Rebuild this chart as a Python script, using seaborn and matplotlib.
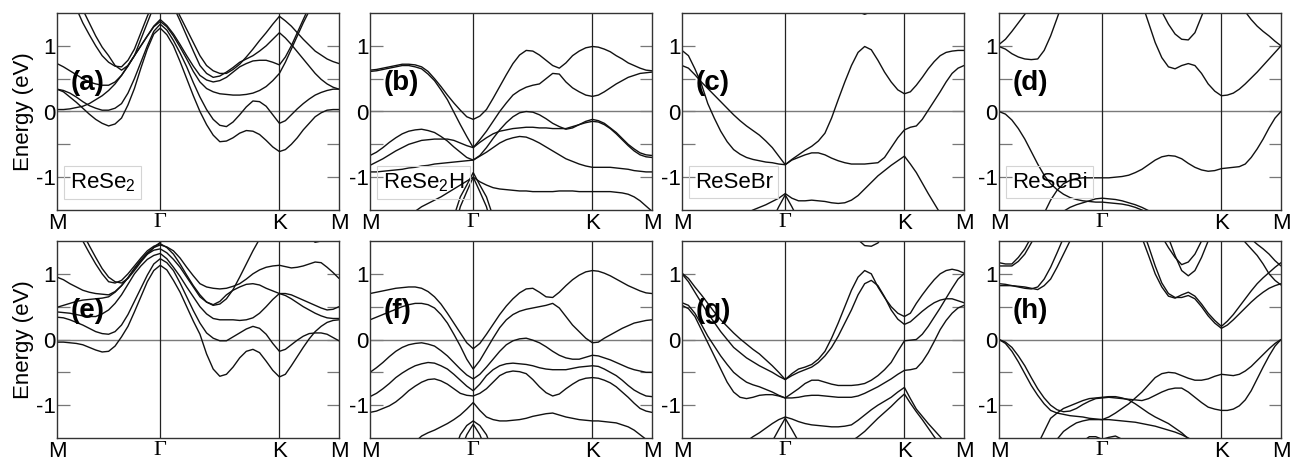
import numpy as np
import pandas as pd
import matplotlib
matplotlib.use("Agg")
import matplotlib.pyplot as plt
import seaborn as sns

# ---------------- k-path M - Gamma - K - M (hexagonal BZ, 2pi/a units) ----------------
SEG_MG = 1 / np.sqrt(3)
SEG_GK = 2 / 3
SEG_KM = 1 / 3
k_path = np.concatenate([
    np.linspace(0, SEG_MG, 17),
    np.linspace(SEG_MG, SEG_MG + SEG_GK, 19)[1:],
    np.linspace(SEG_MG + SEG_GK, SEG_MG + SEG_GK + SEG_KM, 11)[1:],
])
k_ticks = [0, SEG_MG, SEG_MG + SEG_GK, SEG_MG + SEG_GK + SEG_KM]
k_labels = ["M", "Γ", "K", "M"]

# ---------------- band energies (eV): [M..Γ] + [..K] + [..M] ----------------
# (a) ReSe2
a1 = [0.34, 0.30, 0.22, 0.14, 0.05, -0.04, -0.12, -0.18, -0.22, -0.19, -0.10, 0.10, 0.35, 0.66, 0.95, 1.18, 1.27] + \
     [1.17, 1.00, 0.76, 0.50, 0.24, 0.00, -0.20, -0.36, -0.46, -0.45, -0.40, -0.33, -0.29, -0.30, -0.35, -0.44, -0.54, -0.61] + \
     [-0.58, -0.50, -0.40, -0.28, -0.18, -0.08, -0.02, 0.02, 0.03, 0.03]
a2 = [0.34, 0.32, 0.28, 0.22, 0.15, 0.09, 0.05, 0.02, 0.02, 0.05, 0.12, 0.28, 0.50, 0.75, 1.00, 1.22, 1.33] + \
     [1.24, 1.08, 0.89, 0.68, 0.44, 0.22, 0.03, -0.12, -0.21, -0.23, -0.16, -0.05, 0.07, 0.16, 0.15, 0.08, -0.05, -0.18] + \
     [-0.14, -0.05, 0.04, 0.12, 0.19, 0.25, 0.29, 0.32, 0.34, 0.34]
a3 = [0.03, 0.03, 0.04, 0.06, 0.08, 0.12, 0.18, 0.24, 0.32, 0.42, 0.55, 0.70, 0.85, 1.00, 1.15, 1.29, 1.37] + \
     [1.29, 1.15, 0.98, 0.80, 0.61, 0.45, 0.35, 0.30, 0.27, 0.26, 0.25, 0.25, 0.26, 0.28, 0.32, 0.38, 0.47, 0.58] + \
     [0.75, 0.95, 1.15, 1.35, 1.53, 1.70, 1.85, 2.00, 2.10, 2.20]
a4 = [0.73, 0.68, 0.62, 0.56, 0.50, 0.45, 0.42, 0.40, 0.40, 0.45, 0.55, 0.69, 0.85, 1.00, 1.15, 1.30, 1.40] + \
     [1.31, 1.18, 1.02, 0.85, 0.69, 0.55, 0.48, 0.45, 0.47, 0.52, 0.60, 0.68, 0.73, 0.77, 0.78, 0.78, 0.75, 0.71] + \
     [0.83, 1.00, 1.20, 1.40, 1.60, 1.80, 1.95, 2.10, 2.20, 2.30]
a5 = [2.30, 2.05, 1.80, 1.57, 1.35, 1.17, 1.00, 0.85, 0.75, 0.69, 0.68, 0.78, 0.95, 1.20, 1.45, 1.68, 1.90] + \
     [1.76, 1.60, 1.38, 1.15, 0.92, 0.70, 0.58, 0.52, 0.54, 0.60, 0.67, 0.75, 0.80, 0.85, 0.92, 1.00, 1.10, 1.20] + \
     [1.12, 1.02, 0.91, 0.80, 0.69, 0.58, 0.49, 0.42, 0.37, 0.34]
a6 = [2.50, 2.25, 2.00, 1.77, 1.55, 1.35, 1.15, 0.98, 0.85, 0.70, 0.63, 0.70, 0.85, 1.10, 1.35, 1.60, 1.85] + \
     [1.76, 1.65, 1.45, 1.25, 1.05, 0.85, 0.70, 0.62, 0.58, 0.58, 0.64, 0.72, 0.83, 0.95, 1.08, 1.20, 1.33, 1.45] + \
     [1.38, 1.30, 1.20, 1.10, 1.01, 0.92, 0.86, 0.80, 0.76, 0.73]

# (b) ReSe2H
b1 = [0.63, 0.64, 0.66, 0.68, 0.70, 0.72, 0.72, 0.71, 0.68, 0.61, 0.50, 0.38, 0.25, 0.13, 0.02, -0.08, -0.12] + \
     [-0.07, 0.03, 0.20, 0.38, 0.56, 0.73, 0.86, 0.93, 0.92, 0.86, 0.78, 0.70, 0.66, 0.74, 0.85, 0.92, 0.97, 0.99] + \
     [0.98, 0.95, 0.91, 0.85, 0.80, 0.74, 0.70, 0.66, 0.63, 0.62]
b2 = [0.61, 0.62, 0.64, 0.66, 0.68, 0.70, 0.70, 0.68, 0.65, 0.57, 0.47, 0.33, 0.18, -0.01, -0.20, -0.38, -0.55] + \
     [-0.43, -0.30, -0.15, 0.00, 0.13, 0.25, 0.32, 0.37, 0.40, 0.42, 0.50, 0.58, 0.57, 0.45, 0.36, 0.30, 0.25, 0.23] + \
     [0.25, 0.30, 0.36, 0.42, 0.47, 0.52, 0.55, 0.58, 0.59, 0.60]
b3 = [-0.67, -0.62, -0.55, -0.47, -0.40, -0.34, -0.30, -0.28, -0.27, -0.29, -0.32, -0.38, -0.45, -0.54, -0.62, -0.70, -0.74] + \
     [-0.67, -0.55, -0.41, -0.28, -0.17, -0.08, -0.02, 0.00, -0.01, -0.05, -0.11, -0.18, -0.23, -0.27, -0.25, -0.20, -0.15, -0.12] + \
     [-0.14, -0.18, -0.25, -0.32, -0.41, -0.50, -0.57, -0.63, -0.66, -0.67]
b4 = [-0.82, -0.77, -0.72, -0.66, -0.60, -0.55, -0.50, -0.47, -0.44, -0.43, -0.42, -0.42, -0.42, -0.44, -0.48, -0.52, -0.55] + \
     [-0.47, -0.40, -0.34, -0.30, -0.28, -0.26, -0.25, -0.24, -0.24, -0.25, -0.25, -0.26, -0.26, -0.26, -0.23, -0.20, -0.17, -0.15] + \
     [-0.16, -0.20, -0.26, -0.34, -0.43, -0.52, -0.60, -0.66, -0.69, -0.70]
b5 = [-0.92, -0.92, -0.91, -0.90, -0.89, -0.88, -0.86, -0.85, -0.83, -0.82, -0.80, -0.79, -0.78, -0.77, -0.76, -0.75, -0.74] + \
     [-0.68, -0.62, -0.55, -0.48, -0.43, -0.40, -0.38, -0.39, -0.43, -0.48, -0.54, -0.60, -0.66, -0.72, -0.76, -0.80, -0.83, -0.85] + \
     [-0.85, -0.85, -0.85, -0.86, -0.87, -0.88, -0.90, -0.91, -0.92, -0.92]
b6 = [-2.20, -2.10, -2.00, -1.90, -1.80, -1.70, -1.60, -1.52, -1.45, -1.40, -1.35, -1.30, -1.24, -1.18, -1.12, -1.06, -1.00] + \
     [-1.07, -1.12, -1.16, -1.18, -1.19, -1.20, -1.21, -1.21, -1.22, -1.22, -1.22, -1.22, -1.21, -1.21, -1.21, -1.22, -1.22, -1.22] + \
     [-1.22, -1.22, -1.22, -1.23, -1.24, -1.26, -1.30, -1.36, -1.44, -1.52]
b7 = [-2.80, -2.80, -2.80, -2.80, -2.80, -2.80, -2.80, -2.80, -2.80, -2.80, -2.50, -2.20, -1.90, -1.60, -1.30, -1.12, -0.93] + \
     [-1.12, -1.30, -1.60, -1.90, -2.20, -2.50, -2.80, -2.80, -2.80, -2.80, -2.80, -2.80, -2.80, -2.80, -2.80, -2.80, -2.80, -2.80] + \
     [-2.80, -2.80, -2.80, -2.80, -2.80, -2.80, -2.80, -2.80, -2.80, -2.80]
b8 = [-2.90, -2.90, -2.90, -2.90, -2.90, -2.90, -2.90, -2.90, -2.90, -2.90, -2.70, -2.45, -2.20, -1.82, -1.45, -1.22, -1.00] + \
     [-1.22, -1.45, -1.82, -2.20, -2.45, -2.70, -2.90, -2.90, -2.90, -2.90, -2.90, -2.90, -2.90, -2.90, -2.90, -2.90, -2.90, -2.90] + \
     [-2.90, -2.90, -2.90, -2.90, -2.90, -2.90, -2.90, -2.90, -2.90, -2.90]

# (c) ReSeBr
c1 = [0.93, 0.85, 0.65, 0.42, 0.12, -0.10, -0.30, -0.46, -0.58, -0.65, -0.70, -0.73, -0.75, -0.77, -0.78, -0.80, -0.81] + \
     [-0.74, -0.70, -0.66, -0.63, -0.63, -0.66, -0.71, -0.75, -0.78, -0.80, -0.80, -0.80, -0.79, -0.78, -0.70, -0.55, -0.40, -0.28] + \
     [-0.24, -0.22, -0.12, 0.02, 0.16, 0.30, 0.45, 0.58, 0.66, 0.70]
c2 = [0.70, 0.66, 0.56, 0.45, 0.35, 0.25, 0.15, 0.05, -0.05, -0.14, -0.22, -0.29, -0.36, -0.45, -0.55, -0.68, -0.81] + \
     [-0.73, -0.66, -0.59, -0.53, -0.45, -0.33, -0.10, 0.18, 0.45, 0.70, 0.90, 0.99, 0.94, 0.78, 0.60, 0.45, 0.33, 0.27] + \
     [0.30, 0.40, 0.52, 0.65, 0.76, 0.85, 0.90, 0.92, 0.93, 0.93]
c3 = [-2.20, -2.15, -2.10, -2.05, -2.00, -1.95, -1.90, -1.82, -1.75, -1.65, -1.55, -1.50, -1.46, -1.42, -1.37, -1.32, -1.25] + \
     [-1.32, -1.36, -1.36, -1.35, -1.36, -1.37, -1.39, -1.40, -1.39, -1.35, -1.28, -1.18, -1.08, -0.98, -0.90, -0.82, -0.75, -0.68] + \
     [-0.80, -0.93, -1.09, -1.25, -1.40, -1.55, -1.68, -1.80, -1.95, -2.10]
c4 = [-2.60, -2.60, -2.60, -2.60, -2.60, -2.60, -2.60, -2.60, -2.60, -2.60, -2.60, -2.60, -2.20, -1.95, -1.65, -1.45, -1.27] + \
     [-1.45, -1.65, -1.95, -2.20, -2.60, -2.60, -2.60, -2.60, -2.60, -2.60, -2.60, -2.60, -2.60, -2.60, -2.60, -2.60, -2.60, -2.60] + \
     [-2.60, -2.60, -2.60, -2.60, -2.60, -2.60, -2.60, -2.60, -2.60, -2.60]
c5 = [2.60, 2.60, 2.60, 2.60, 2.60, 2.60, 2.60, 2.60, 2.60, 2.60, 2.60, 2.60, 2.60, 2.60, 2.60, 2.60, 2.60] + \
     [2.60, 2.60, 2.60, 2.60, 2.60, 2.20, 2.05, 1.90, 1.75, 1.60, 1.52, 1.48, 1.52, 1.60, 1.75, 1.90, 2.05, 2.20] + \
     [2.40, 2.40, 2.40, 2.40, 2.40, 2.40, 2.40, 2.40, 2.40, 2.40]

# (d) ReSeBi
d1 = [0.00, -0.04, -0.13, -0.26, -0.42, -0.61, -0.80, -0.97, -1.10, -1.19, -1.26, -1.31, -1.34, -1.36, -1.37, -1.38, -1.38] + \
     [-1.39, -1.40, -1.41, -1.43, -1.46, -1.50, -1.55, -1.62, -1.70, -1.80, -1.90, -2.00, -2.05, -2.10, -2.15, -2.20, -2.25, -2.30] + \
     [-2.30, -2.30, -2.25, -2.20, -2.15, -2.10, -2.05, -2.00, -1.95, -1.90]
d2 = [-2.60, -2.45, -2.30, -2.15, -2.00, -1.88, -1.75, -1.55, -1.35, -1.20, -1.10, -1.05, -1.02, -1.01, -1.01, -1.01, -1.01] + \
     [-1.01, -1.00, -0.99, -0.97, -0.93, -0.88, -0.81, -0.74, -0.69, -0.67, -0.68, -0.72, -0.79, -0.85, -0.89, -0.91, -0.90, -0.87] + \
     [-0.86, -0.85, -0.84, -0.80, -0.70, -0.57, -0.42, -0.25, -0.10, 0.00]
d3 = [-2.50, -2.45, -2.40, -2.35, -2.30, -2.20, -2.10, -2.00, -1.90, -1.68, -1.52, -1.46, -1.42, -1.39, -1.36, -1.33, -1.32] + \
     [-1.33, -1.34, -1.36, -1.39, -1.42, -1.46, -1.51, -1.56, -1.63, -1.70, -1.78, -1.85, -1.92, -2.00, -2.05, -2.10, -2.15, -2.20] + \
     [-2.25, -2.30, -2.35, -2.40, -2.45, -2.50, -2.55, -2.60, -2.65, -2.70]
d4 = [1.02, 1.10, 1.22, 1.35, 1.48, 1.64, 1.80, 1.95, 2.10, 2.20, 2.30, 2.35, 2.40, 2.43, 2.45, 2.48, 2.50] + \
     [2.46, 2.40, 2.27, 2.10, 1.90, 1.65, 1.35, 1.05, 0.82, 0.68, 0.65, 0.70, 0.73, 0.70, 0.58, 0.42, 0.31, 0.24] + \
     [0.25, 0.28, 0.34, 0.42, 0.51, 0.60, 0.70, 0.80, 0.90, 1.00]
d5 = [0.99, 0.95, 0.88, 0.83, 0.80, 0.79, 0.80, 0.93, 1.15, 1.42, 1.70, 1.90, 2.10, 2.25, 2.40, 2.50, 2.60] + \
     [2.55, 2.50, 2.40, 2.30, 2.15, 2.00, 1.85, 1.70, 1.52, 1.33, 1.18, 1.10, 1.09, 1.20, 1.45, 1.70, 1.85, 2.00] + \
     [1.90, 1.80, 1.66, 1.52, 1.40, 1.30, 1.22, 1.15, 1.07, 1.00]

# (e)
e1 = [-0.04, -0.04, -0.05, -0.06, -0.08, -0.12, -0.16, -0.19, -0.18, -0.10, 0.04, 0.20, 0.42, 0.65, 0.88, 1.05, 1.13] + \
     [1.06, 0.90, 0.72, 0.50, 0.28, 0.08, -0.22, -0.45, -0.56, -0.53, -0.42, -0.28, -0.18, -0.15, -0.20, -0.33, -0.47, -0.57] + \
     [-0.53, -0.40, -0.26, -0.12, 0.01, 0.12, 0.20, 0.26, 0.29, 0.30]
e2 = [0.34, 0.33, 0.30, 0.26, 0.22, 0.17, 0.12, 0.09, 0.08, 0.12, 0.22, 0.38, 0.58, 0.78, 0.98, 1.15, 1.23] + \
     [1.17, 1.05, 0.86, 0.65, 0.44, 0.25, 0.10, 0.02, -0.02, -0.02, 0.04, 0.10, 0.16, 0.20, 0.17, 0.08, -0.06, -0.18] + \
     [-0.15, -0.08, -0.01, 0.05, 0.09, 0.10, 0.10, 0.08, 0.03, -0.02]
e3 = [0.42, 0.41, 0.40, 0.38, 0.36, 0.35, 0.35, 0.39, 0.45, 0.55, 0.68, 0.84, 1.00, 1.12, 1.22, 1.28, 1.31] + \
     [1.23, 1.10, 0.96, 0.80, 0.65, 0.50, 0.39, 0.32, 0.30, 0.30, 0.30, 0.29, 0.30, 0.33, 0.40, 0.50, 0.61, 0.70] + \
     [0.67, 0.62, 0.56, 0.50, 0.45, 0.40, 0.36, 0.33, 0.32, 0.32]
e4 = [0.49, 0.52, 0.55, 0.58, 0.60, 0.61, 0.62, 0.63, 0.65, 0.72, 0.82, 0.94, 1.08, 1.20, 1.30, 1.36, 1.38] + \
     [1.32, 1.22, 1.10, 0.95, 0.80, 0.65, 0.57, 0.53, 0.58, 0.68, 0.75, 0.80, 0.84, 0.85, 0.83, 0.78, 0.74, 0.70] + \
     [0.70, 0.68, 0.64, 0.60, 0.56, 0.52, 0.48, 0.45, 0.46, 0.50]
e5 = [0.95, 0.91, 0.85, 0.80, 0.75, 0.72, 0.70, 0.69, 0.68, 0.73, 0.82, 0.94, 1.08, 1.21, 1.32, 1.40, 1.44] + \
     [1.41, 1.35, 1.24, 1.10, 0.97, 0.85, 0.80, 0.78, 0.77, 0.78, 0.81, 0.85, 0.92, 1.00, 1.06, 1.10, 1.12, 1.13] + \
     [1.11, 1.09, 1.10, 1.12, 1.15, 1.18, 1.17, 1.10, 1.02, 0.93]
e6 = [2.30, 2.10, 1.90, 1.70, 1.50, 1.32, 1.15, 1.00, 0.88, 0.86, 0.90, 1.00, 1.12, 1.24, 1.35, 1.42, 1.46] + \
     [1.40, 1.30, 1.15, 0.98, 0.82, 0.68, 0.57, 0.52, 0.54, 0.62, 0.76, 0.95, 1.15, 1.35, 1.53, 1.70, 1.80, 1.90] + \
     [1.92, 1.95, 1.97, 2.00, 2.00, 2.00, 2.00, 2.00, 2.00, 2.00]
e7 = [2.40, 2.20, 2.00, 1.80, 1.62, 1.43, 1.25, 1.08, 0.95, 0.88, 0.86, 0.93, 1.05, 1.18, 1.30, 1.40, 1.48] + \
     [1.55, 1.62, 1.70, 1.80, 1.90, 2.00, 2.05, 2.10, 2.15, 2.20, 2.20, 2.20, 2.20, 2.20, 2.20, 2.20, 2.20, 2.20] + \
     [2.05, 1.90, 1.77, 1.65, 1.55, 1.48, 1.50, 1.60, 1.70, 1.80]

# (f)
f1 = [0.70, 0.72, 0.74, 0.76, 0.78, 0.79, 0.80, 0.80, 0.78, 0.73, 0.65, 0.54, 0.40, 0.25, 0.10, -0.05, -0.14] + \
     [-0.06, 0.08, 0.23, 0.38, 0.51, 0.62, 0.71, 0.77, 0.78, 0.72, 0.65, 0.64, 0.72, 0.82, 0.91, 0.98, 1.03, 1.05] + \
     [1.04, 1.01, 0.97, 0.92, 0.87, 0.82, 0.78, 0.74, 0.71, 0.70]
f2 = [0.30, 0.34, 0.38, 0.42, 0.46, 0.50, 0.53, 0.55, 0.55, 0.53, 0.48, 0.38, 0.25, 0.08, -0.10, -0.30, -0.45] + \
     [-0.32, -0.15, 0.02, 0.18, 0.30, 0.38, 0.43, 0.46, 0.48, 0.50, 0.52, 0.55, 0.48, 0.35, 0.22, 0.12, 0.02, -0.05] + \
     [-0.04, 0.02, 0.07, 0.12, 0.17, 0.21, 0.25, 0.27, 0.29, 0.30]
f3 = [-0.50, -0.43, -0.35, -0.26, -0.18, -0.12, -0.08, -0.06, -0.05, -0.07, -0.10, -0.17, -0.25, -0.35, -0.45, -0.54, -0.60] + \
     [-0.53, -0.42, -0.30, -0.18, -0.08, -0.02, 0.01, 0.02, -0.01, -0.05, -0.11, -0.18, -0.24, -0.28, -0.30, -0.30, -0.27, -0.24] + \
     [-0.25, -0.28, -0.31, -0.35, -0.39, -0.43, -0.46, -0.48, -0.50, -0.50]
f4 = [-0.87, -0.82, -0.75, -0.67, -0.58, -0.51, -0.45, -0.40, -0.37, -0.35, -0.36, -0.40, -0.45, -0.53, -0.62, -0.71, -0.78] + \
     [-0.68, -0.55, -0.46, -0.40, -0.37, -0.36, -0.37, -0.38, -0.40, -0.43, -0.45, -0.46, -0.46, -0.46, -0.44, -0.42, -0.41, -0.40] + \
     [-0.41, -0.45, -0.50, -0.55, -0.62, -0.70, -0.77, -0.82, -0.86, -0.87]
f5 = [-1.11, -1.09, -1.05, -1.01, -0.95, -0.87, -0.78, -0.71, -0.65, -0.61, -0.60, -0.63, -0.68, -0.75, -0.82, -0.85, -0.86] + \
     [-0.82, -0.75, -0.65, -0.55, -0.50, -0.48, -0.49, -0.52, -0.61, -0.72, -0.81, -0.86, -0.83, -0.75, -0.68, -0.62, -0.59, -0.58] + \
     [-0.59, -0.62, -0.66, -0.72, -0.80, -0.88, -0.97, -1.05, -1.09, -1.11]
f6 = [-2.20, -2.10, -2.00, -1.92, -1.85, -1.75, -1.65, -1.56, -1.47, -1.42, -1.38, -1.33, -1.28, -1.22, -1.15, -1.06, -0.96] + \
     [-1.08, -1.18, -1.22, -1.24, -1.24, -1.23, -1.22, -1.20, -1.17, -1.15, -1.13, -1.12, -1.15, -1.18, -1.20, -1.22, -1.23, -1.24] + \
     [-1.24, -1.25, -1.26, -1.27, -1.30, -1.33, -1.38, -1.45, -1.52, -1.60]
f7 = [-2.60, -2.60, -2.60, -2.60, -2.60, -2.60, -2.60, -2.60, -2.60, -2.60, -2.60, -2.60, -2.00, -1.72, -1.45, -1.31, -1.24] + \
     [-1.31, -1.45, -1.72, -2.00, -2.60, -2.60, -2.60, -2.60, -2.60, -2.60, -2.60, -2.60, -2.60, -2.60, -2.60, -2.60, -2.60, -2.60] + \
     [-2.60, -2.60, -2.60, -2.60, -2.60, -2.60, -2.60, -2.60, -2.60, -2.60]
f8 = [-2.80, -2.80, -2.80, -2.80, -2.80, -2.80, -2.80, -2.80, -2.80, -2.80, -2.80, -2.80, -2.40, -2.05, -1.70, -1.45, -1.29] + \
     [-1.45, -1.70, -2.05, -2.40, -2.80, -2.80, -2.80, -2.80, -2.80, -2.80, -2.80, -2.80, -2.80, -2.80, -2.80, -2.80, -2.80, -2.80] + \
     [-2.80, -2.80, -2.80, -2.80, -2.80, -2.80, -2.80, -2.80, -2.80, -2.80]

# (g)
g1 = [1.01, 0.93, 0.80, 0.68, 0.55, 0.42, 0.30, 0.20, 0.10, 0.01, -0.07, -0.15, -0.22, -0.31, -0.40, -0.50, -0.61] + \
     [-0.52, -0.45, -0.42, -0.38, -0.30, -0.18, 0.02, 0.25, 0.50, 0.75, 0.95, 1.05, 1.00, 0.80, 0.64, 0.50, 0.40, 0.35] + \
     [0.40, 0.55, 0.68, 0.80, 0.91, 1.00, 1.05, 1.07, 1.05, 1.01]
g2 = [1.00, 0.88, 0.72, 0.56, 0.40, 0.26, 0.12, 0.00, -0.12, -0.20, -0.28, -0.34, -0.40, -0.45, -0.50, -0.56, -0.61] + \
     [-0.55, -0.50, -0.46, -0.42, -0.35, -0.25, -0.12, 0.05, 0.25, 0.45, 0.68, 0.85, 0.90, 0.82, 0.65, 0.45, 0.31, 0.23] + \
     [0.27, 0.35, 0.43, 0.50, 0.56, 0.60, 0.62, 0.62, 0.59, 0.56]
g3 = [0.56, 0.52, 0.40, 0.23, 0.05, -0.10, -0.25, -0.38, -0.50, -0.58, -0.65, -0.69, -0.72, -0.76, -0.80, -0.85, -0.89] + \
     [-0.82, -0.75, -0.67, -0.62, -0.62, -0.65, -0.68, -0.70, -0.70, -0.70, -0.69, -0.67, -0.62, -0.55, -0.46, -0.35, -0.18, -0.02] + \
     [-0.01, 0.00, 0.08, 0.20, 0.34, 0.48, 0.63, 0.78, 0.92, 1.00]
g4 = [0.52, 0.47, 0.35, 0.15, -0.05, -0.25, -0.45, -0.65, -0.80, -0.88, -0.90, -0.88, -0.85, -0.84, -0.84, -0.86, -0.89] + \
     [-0.89, -0.88, -0.86, -0.85, -0.85, -0.86, -0.87, -0.88, -0.88, -0.88, -0.86, -0.82, -0.77, -0.72, -0.66, -0.60, -0.53, -0.47] + \
     [-0.46, -0.44, -0.34, -0.20, -0.03, 0.15, 0.29, 0.40, 0.48, 0.52]
g5 = [-2.30, -2.20, -2.10, -2.02, -1.95, -1.88, -1.80, -1.72, -1.65, -1.60, -1.55, -1.48, -1.42, -1.35, -1.28, -1.22, -1.18] + \
     [-1.21, -1.25, -1.28, -1.30, -1.31, -1.32, -1.33, -1.33, -1.32, -1.30, -1.23, -1.15, -1.07, -1.00, -0.94, -0.88, -0.80, -0.73] + \
     [-0.90, -1.06, -1.17, -1.28, -1.38, -1.48, -1.59, -1.70, -1.80, -1.90]
g6 = [-2.60, -2.60, -2.60, -2.60, -2.60, -2.60, -2.60, -2.60, -2.60, -2.60, -2.60, -2.60, -2.60, -2.60, -2.60, -2.60, -2.60] + \
     [-2.60, -2.60, -2.60, -2.60, -2.60, -2.60, -2.60, -1.90, -1.70, -1.55, -1.48, -1.40, -1.30, -1.20, -1.11, -1.02, -0.92, -0.83] + \
     [-0.97, -1.10, -1.22, -1.35, -1.48, -1.60, -1.70, -1.80, -1.90, -2.00]
g7 = [-2.60, -2.60, -2.60, -2.60, -2.60, -2.60, -2.60, -2.60, -2.60, -2.60, -2.60, -2.60, -2.30, -1.90, -1.55, -1.37, -1.20] + \
     [-1.37, -1.55, -1.90, -2.30, -2.60, -2.60, -2.60, -2.60, -2.60, -2.60, -2.60, -2.60, -2.60, -2.60, -2.60, -2.60, -2.60, -2.60] + \
     [-2.60, -2.60, -2.60, -2.60, -2.60, -2.60, -2.60, -2.60, -2.60, -2.60]
g8 = [2.60, 2.60, 2.60, 2.60, 2.60, 2.60, 2.60, 2.60, 2.60, 2.60, 2.60, 2.60, 2.60, 2.60, 2.60, 2.60, 2.60] + \
     [2.60, 2.60, 2.60, 2.60, 2.60, 2.60, 2.60, 1.90, 1.78, 1.65, 1.52, 1.43, 1.42, 1.47, 1.60, 1.70, 1.80, 1.90] + \
     [2.20, 2.20, 2.20, 2.20, 2.20, 2.20, 2.20, 2.20, 2.20, 2.20]

# (h)
h1 = [0.00, -0.04, -0.12, -0.25, -0.40, -0.58, -0.75, -0.89, -1.00, -1.07, -1.10, -1.09, -1.05, -0.99, -0.94, -0.90, -0.89] + \
     [-0.88, -0.89, -0.90, -0.91, -0.92, -0.93, -0.90, -0.85, -0.80, -0.76, -0.74, -0.74, -0.80, -0.88, -0.96, -1.03, -1.06, -1.08] + \
     [-1.08, -1.06, -1.01, -0.92, -0.78, -0.60, -0.42, -0.25, -0.10, 0.00]
h2 = [0.00, -0.06, -0.18, -0.34, -0.52, -0.70, -0.85, -0.98, -1.08, -1.12, -1.14, -1.16, -1.17, -1.18, -1.20, -1.21, -1.22] + \
     [-1.18, -1.12, -1.05, -0.98, -0.89, -0.80, -0.69, -0.58, -0.52, -0.50, -0.51, -0.55, -0.59, -0.62, -0.62, -0.60, -0.56, -0.53] + \
     [-0.54, -0.55, -0.53, -0.48, -0.41, -0.32, -0.23, -0.14, -0.06, 0.00]
h3 = [-2.50, -2.35, -2.20, -2.05, -1.90, -1.75, -1.60, -1.40, -1.20, -1.12, -1.05, -1.01, -0.97, -0.93, -0.90, -0.89, -0.88] + \
     [-0.87, -0.87, -0.89, -0.92, -0.98, -1.05, -1.12, -1.18, -1.23, -1.28, -1.35, -1.42, -1.51, -1.60, -1.70, -1.80, -1.90, -2.00] + \
     [-2.05, -2.10, -2.15, -2.20, -2.25, -2.30, -2.35, -2.40, -2.45, -2.50]
h4 = [-2.60, -2.50, -2.40, -2.30, -2.20, -2.10, -2.00, -1.82, -1.65, -1.52, -1.40, -1.33, -1.27, -1.24, -1.22, -1.22, -1.22] + \
     [-1.22, -1.23, -1.24, -1.25, -1.26, -1.28, -1.30, -1.32, -1.35, -1.38, -1.41, -1.45, -1.50, -1.55, -1.62, -1.70, -1.80, -1.90] + \
     [-1.95, -2.00, -2.05, -2.10, -2.15, -2.20, -2.25, -2.30, -2.35, -2.40]
h5 = [-2.50, -2.50, -2.50, -2.50, -2.50, -2.50, -2.50, -2.50, -2.50, -2.50, -2.50, -2.50, -1.65, -1.55, -1.48, -1.48, -1.52] + \
     [-1.49, -1.47, -1.52, -1.62, -2.00, -2.50, -2.50, -2.50, -2.50, -2.50, -2.50, -2.50, -2.50, -2.50, -2.50, -2.50, -2.50, -2.50] + \
     [-2.50, -2.50, -2.50, -2.50, -2.50, -2.50, -2.50, -2.50, -2.50, -2.50]
h6 = [1.17, 1.15, 1.15, 1.25, 1.38, 1.56, 1.75, 1.92, 2.10, 2.20, 2.30, 2.35, 2.40, 2.45, 2.50, 2.50, 2.50] + \
     [2.50, 2.50, 2.45, 2.40, 2.30, 2.20, 2.00, 1.75, 1.57, 1.40, 1.25, 1.14, 1.18, 1.30, 1.50, 1.75, 1.85, 1.90] + \
     [1.80, 1.70, 1.60, 1.48, 1.38, 1.28, 1.15, 1.00, 0.90, 0.83]
h7 = [1.12, 1.12, 1.12, 1.19, 1.30, 1.47, 1.65, 1.82, 2.00, 2.10, 2.20, 2.25, 2.30, 2.35, 2.40, 2.40, 2.40] + \
     [2.40, 2.40, 2.35, 2.30, 2.20, 2.10, 2.05, 2.00, 1.80, 1.55, 1.28, 1.05, 0.97, 1.05, 1.25, 1.50, 1.75, 2.00] + \
     [1.95, 1.85, 1.74, 1.62, 1.53, 1.45, 1.38, 1.30, 1.20, 1.12]
h8 = [0.85, 0.84, 0.82, 0.80, 0.78, 0.77, 0.80, 0.92, 1.10, 1.32, 1.55, 1.75, 1.90, 2.00, 2.10, 2.15, 2.20] + \
     [2.20, 2.20, 2.05, 1.90, 1.73, 1.55, 1.28, 1.00, 0.80, 0.66, 0.63, 0.68, 0.72, 0.66, 0.54, 0.40, 0.29, 0.20] + \
     [0.28, 0.38, 0.50, 0.62, 0.74, 0.85, 0.94, 1.02, 1.10, 1.17]
h9 = [0.82, 0.82, 0.82, 0.81, 0.80, 0.78, 0.76, 0.82, 0.92, 1.10, 1.30, 1.50, 1.70, 1.85, 2.00, 2.05, 2.10] + \
     [2.10, 2.10, 2.02, 1.95, 1.85, 1.70, 1.42, 1.12, 0.86, 0.70, 0.64, 0.64, 0.67, 0.62, 0.50, 0.36, 0.25, 0.17] + \
     [0.22, 0.30, 0.39, 0.48, 0.57, 0.65, 0.72, 0.78, 0.82, 0.85]

panel_tags = ["(a)", "(b)", "(c)", "(d)", "(e)", "(f)", "(g)", "(h)"]
material_names = ["ReSe$_2$", "ReSe$_2$H", "ReSeBr", "ReSeBi"]
y_ticks = [-1, 0, 1]
y_ticklabels = ["-1", "0", "1"]

panel_bands = [
    [a1, a2, a3, a4, a5, a6],
    [b1, b2, b3, b4, b5, b6, b7, b8],
    [c1, c2, c3, c4, c5],
    [d1, d2, d3, d4, d5],
    [e1, e2, e3, e4, e5, e6, e7],
    [f1, f2, f3, f4, f5, f6, f7, f8],
    [g1, g2, g3, g4, g5, g6, g7, g8],
    [h1, h2, h3, h4, h5, h6, h7, h8, h9],
]

# ---------------- styling ----------------
sns.set_theme(style="white")
plt.rcParams["font.family"] = ["Liberation Sans", "DejaVu Sans"]
plt.rcParams["mathtext.default"] = "regular"
plt.rcParams["axes.unicode_minus"] = False
plt.rcParams["text.color"] = "black"
plt.rcParams["axes.labelcolor"] = "black"

W, H = 1290, 461
fig = plt.figure(figsize=(W / 100, H / 100), dpi=100)

col_left_px = [57, 370, 682, 999]
ax_w_px = 282
row_top_px = [13, 241]
ax_h_px = 197

FS = 16

for idx, bands in enumerate(panel_bands):
    r, c = divmod(idx, 4)
    left = col_left_px[c] / W
    bottom = 1 - (row_top_px[r] + ax_h_px) / H
    ax = fig.add_axes([left, bottom, ax_w_px / W, ax_h_px / H])

    frames = [pd.DataFrame({"k": k_path, "E": b, "band": j}) for j, b in enumerate(bands)]
    df = pd.concat(frames, ignore_index=True)

    ax.axhline(0, color="#7a7a7a", lw=1.0, zorder=1)
    for kv in k_ticks[1:3]:
        ax.axvline(kv, color="#222222", lw=0.9, zorder=1)

    sns.lineplot(data=df, x="k", y="E", units="band", estimator=None, sort=False,
                 color="#111111", linewidth=1.0, legend=False, ax=ax, zorder=2)

    ax.set_xlim(k_ticks[0], k_ticks[-1])
    ax.set_ylim(-1.5, 1.5)
    ax.set_xlabel("")
    ax.set_ylabel("")

    ax.set_yticks(y_ticks)
    ax.set_yticklabels(y_ticklabels, fontsize=FS)
    ax.set_yticks([-0.5, 0.5], minor=True)
    ax.tick_params(axis="y", which="both", direction="in", left=True, right=True,
                   length=9, width=0.9, color="#777777", labelcolor="black", pad=1)
    ax.set_xticks(k_ticks)
    ax.set_xticklabels(k_labels, fontsize=FS)
    ax.tick_params(axis="x", length=0, pad=2, labelcolor="black")
    gl = ax.get_xticklabels()[1]
    gl.set_fontfamily("Liberation Serif")
    gl.set_fontsize(16)

    for sp in ax.spines.values():
        sp.set_color("#333333")
        sp.set_linewidth(1.0)

    if c == 0:
        ax.set_ylabel("Energy (eV)", fontsize=FS, labelpad=1, color="black")

    ax.text(0.048, 0.645, panel_tags[idx], transform=ax.transAxes, fontsize=20,
            fontweight="bold", ha="left", va="center", zorder=5, color="black")

    if r == 0:
        ax.text(0.045, 0.14, material_names[c], transform=ax.transAxes, fontsize=FS,
                ha="left", va="center", zorder=5, color="black",
                bbox=dict(boxstyle="square,pad=0.25", fc="none", ec="#d4d4d4", lw=0.8))

fig.savefig("out.png", dpi=100)
